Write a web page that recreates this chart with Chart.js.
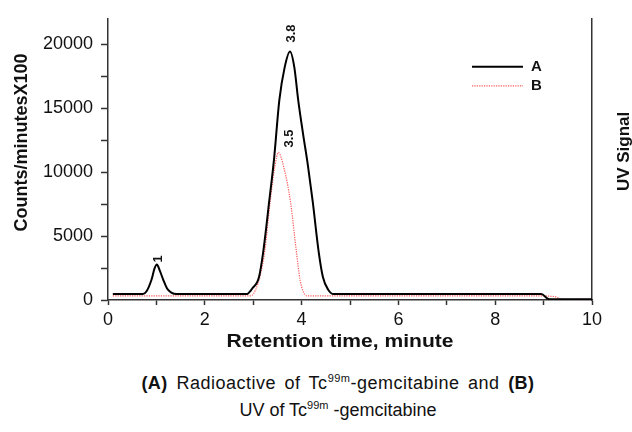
<!DOCTYPE html>
<html><head><meta charset="utf-8">
<script src="https://cdn.jsdelivr.net/npm/chart.js@4.4.1/dist/chart.umd.min.js"></script>
<style>
html,body{margin:0;padding:0;background:#fff;}
#wrap{position:relative;width:632px;height:432px;overflow:hidden;font-family:"Liberation Sans",Arial,sans-serif;background:#fff;}
#c{position:absolute;left:0;top:0;width:632px;height:362px;}
.cap{position:absolute;left:22px;width:632px;text-align:center;font-size:18px;color:#111;white-space:nowrap;}
.cap sup{font-size:11px;vertical-align:0;position:relative;top:-7px;}
</style></head><body>
<div id="wrap">
<canvas id="c" width="632" height="362"></canvas>
<div class="cap" style="top:373px;letter-spacing:0.5px;word-spacing:3px"><b>(A)</b> Radioactive of Tc<sup>99m</sup>-gemcitabine and <b>(B)</b></div>
<div class="cap" style="top:400px">UV of Tc<sup>99m</sup> -gemcitabine</div>
</div>
<script>
// ---- data ----
const seriesNames = ['A', 'B'];
const timeA  = [0.1, 0.72, 0.8, 0.9, 0.96, 1.01, 1.06, 1.14, 1.22, 1.3, 1.42, 2.86, 2.98, 3.12, 3.21, 3.33, 3.43, 3.54, 3.65, 3.76, 3.85, 3.93, 4.03, 4.13, 4.23, 4.35, 4.44, 4.55, 4.66, 8.95, 9.12, 10];
const valueA = [460, 460, 700, 1600, 2450, 2770, 2400, 1600, 900, 600, 460, 460, 900, 1800, 3850, 7690, 11000, 15640, 18200, 19440, 18200, 15640, 13000, 10540, 7690, 3850, 1800, 800, 460, 460, 60, 60];
const timeB  = [0.1, 2.95, 3.05, 3.15, 3.24, 3.35, 3.45, 3.52, 3.64, 3.77, 3.89, 3.97, 4.03, 4.1, 8.98, 9.12, 9.25, 9.38, 10];
const valueB = [330, 330, 800, 2000, 3850, 7690, 10500, 11540, 10250, 7690, 3850, 1540, 700, 330, 330, 300, 250, 60, 60];
const peakTimes  = [1.01, 3.76, 3.52];
const peakValues = [2770, 19440, 11540];
const peakLabels = ['1', '3.8', '3.5'];
const xTickValues = [0, 1, 2, 3, 4, 5, 6, 7, 8, 9, 10];
const xTickLabels = [0, 2, 4, 6, 8, 10];
const yTickValues = [0, 2500, 5000, 7500, 10000, 12500, 15000, 17500, 20000];
const yTickLabels = [0, 5000, 10000, 15000, 20000];
const xTitle = 'Retention time, minute';
const yTitle = 'Counts/minutesX100';
const y2Title = 'UV Signal';

const FONT = '"Liberation Sans", Arial, sans-serif';

const extras = {
  id: 'extras',
  afterDraw(chart) {
    const ctx = chart.ctx, a = chart.chartArea;
    const xs = chart.scales.x, ys = chart.scales.y;
    ctx.save();
    ctx.fillStyle = '#111';
    // axis titles
    ctx.font = 'bold 18px ' + FONT;
    ctx.textAlign = 'center'; ctx.textBaseline = 'middle';
    ctx.save(); ctx.translate((a.left + a.right) / 2 - 10, a.bottom + 42); ctx.scale(1.17, 1);
    ctx.fillText(xTitle, 0, 0); ctx.restore();
    ctx.save(); ctx.translate(22, (a.top + a.bottom) / 2 - 17); ctx.rotate(-Math.PI / 2);
    ctx.fillText(yTitle, 0, 0); ctx.restore();
    ctx.font = 'bold 17px ' + FONT;
    ctx.save(); ctx.translate(a.right + 32, (a.top + a.bottom) / 2 - 8); ctx.rotate(-Math.PI / 2);
    ctx.fillText(y2Title, 0, 0); ctx.restore();
    // peak labels
    const offs = [[2, 2], [1, 9], [11, 5]];
    ctx.font = 'bold 13px ' + FONT;
    ctx.textAlign = 'left';
    peakLabels.forEach((t, i) => {
      const px = xs.getPixelForValue(peakTimes[i]) + offs[i][0];
      const py = ys.getPixelForValue(peakValues[i]) - offs[i][1];
      ctx.save(); ctx.translate(px, py); ctx.rotate(-Math.PI / 2);
      ctx.fillText(t, 0, 0); ctx.restore();
    });
    // legend
    const lx = a.right - 120, ly = a.top + 48;
    chart.data.datasets.forEach((ds, i) => {
      const y = ly + i * 19;
      ctx.save();
      ctx.strokeStyle = ds.borderColor; ctx.lineWidth = ds.borderWidth;
      ctx.setLineDash(ds.borderDash || []);
      ctx.beginPath(); ctx.moveTo(lx, y); ctx.lineTo(lx + 51, y); ctx.stroke();
      ctx.restore();
      ctx.font = 'bold 15px ' + FONT; ctx.textBaseline = 'middle';
      ctx.fillText(ds.label, lx + 59, y);
    });
    ctx.restore();
  }
};

const axisCol = '#333';
new Chart(document.getElementById('c'), {
  type: 'line',
  data: {
    datasets: [
      { label: seriesNames[0], data: timeA.map((t, i) => ({x: t, y: valueA[i]})),
        borderColor: '#000', borderWidth: 2, pointRadius: 0, cubicInterpolationMode: 'monotone', fill: false },
      { label: seriesNames[1], data: timeB.map((t, i) => ({x: t, y: valueB[i]})),
        borderColor: 'rgb(255,85,85)', borderWidth: 1.2, borderDash: [1.2, 1.2], pointRadius: 0, cubicInterpolationMode: 'monotone', fill: false }
    ]
  },
  options: {
    responsive: false, animation: false,
    layout: { padding: { top: 14, left: 0, right: 0, bottom: 0 } },
    plugins: { legend: { display: false }, tooltip: { enabled: false } },
    scales: {
      x: {
        type: 'linear', min: 0, max: 10,
        afterBuildTicks: s => { s.ticks = xTickValues.map(v => ({ value: v })); },
        ticks: { autoSkip: false, maxRotation: 0, padding: 4, color: '#111',
          font: { family: FONT, size: 18 },
          callback: v => xTickLabels.includes(v) ? String(v) : '' },
        grid: { drawOnChartArea: false, drawTicks: true, tickLength: 5, tickColor: axisCol, tickWidth: 1.5 },
        border: { color: axisCol, width: 1.5 },
        afterFit: s => { s.height = 62; }
      },
      y: {
        min: 0, max: 22000,
        afterBuildTicks: s => { s.ticks = yTickValues.map(v => ({ value: v })); },
        ticks: { autoSkip: false, padding: 8, color: '#111',
          font: { family: FONT, size: 18 },
          callback: v => yTickLabels.includes(v) ? String(v) : '' },
        grid: { drawOnChartArea: false, drawTicks: true, tickLength: 7, tickColor: axisCol, tickWidth: 1.5 },
        border: { color: axisCol, width: 1.5 },
        afterFit: s => { s.width = 108; }
      },
      y2: {
        position: 'right', min: 0, max: 22000,
        ticks: { display: false },
        grid: { drawOnChartArea: false, drawTicks: false },
        border: { display: true, color: axisCol, width: 1.5 },
        afterFit: s => { s.width = 40; }
      }
    }
  },
  plugins: [extras]
});
</script>
</body></html>
